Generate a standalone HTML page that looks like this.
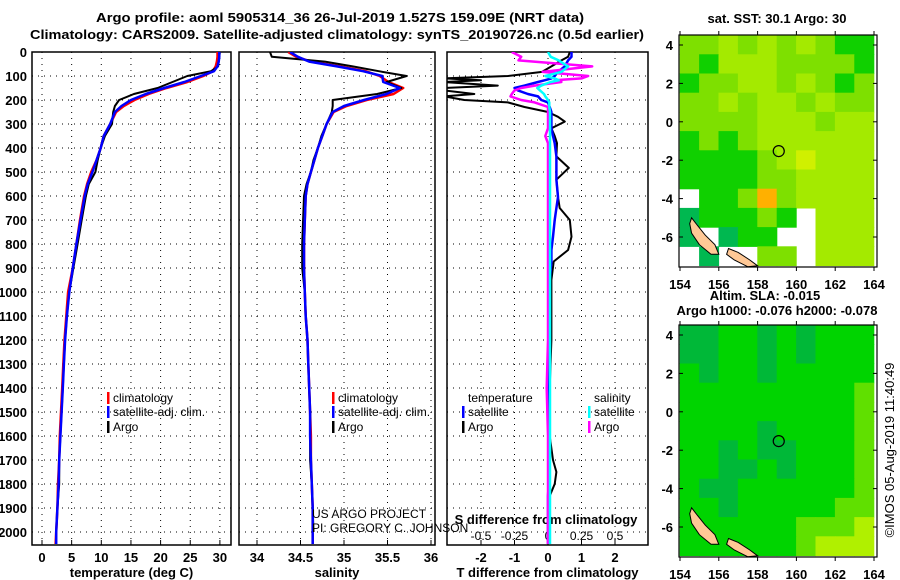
<!DOCTYPE html>
<html><head><meta charset="utf-8"><style>
html,body{margin:0;padding:0;background:#fff;}
svg{display:block;font-family:"Liberation Sans",sans-serif;}
.b{font-weight:bold;font-size:13px;}
.l{font-size:12px;}
</style></head><body>
<svg id="c" width="900" height="580" viewBox="0 0 900 580">
<defs>
<clipPath id="cp1"><rect x="32" y="52" width="199" height="493"/></clipPath>
<clipPath id="cp2"><rect x="239" y="52" width="196" height="493"/></clipPath>
<clipPath id="cp3"><rect x="447" y="52" width="201" height="493"/></clipPath>
<clipPath id="cm1"><rect x="679" y="35" width="198" height="232"/></clipPath>
<clipPath id="cm2"><rect x="679" y="325" width="198" height="232"/></clipPath>
</defs>
<text x="340" y="22" text-anchor="middle" class="b" font-size="14" textLength="488" lengthAdjust="spacingAndGlyphs">Argo profile: aoml 5905314_36 26-Jul-2019 1.527S 159.09E (NRT data)</text>
<text x="337" y="39" text-anchor="middle" class="b" font-size="14" textLength="614" lengthAdjust="spacingAndGlyphs">Climatology: CARS2009. Satellite-adjusted climatology: synTS_20190726.nc (0.5d earlier)</text>
<g id="g"></g>
<text x="777" y="23" text-anchor="middle" class="b">sat. SST: 30.1 Argo: 30</text>
<text x="765" y="300" text-anchor="middle" class="b">Altim. SLA: -0.015</text>
<text x="777" y="315" text-anchor="middle" class="b">Argo h1000: -0.076 h2000: -0.078</text>
<text x="0" y="0" transform="translate(894,450) rotate(-90)" text-anchor="middle" font-size="13">©IMOS 05-Aug-2019 11:40:49</text>
<text x="312" y="518" font-size="12">US ARGO PROJECT</text>
<text x="312" y="532" font-size="12">PI: GREGORY C. JOHNSON</text>
</svg>
<script>
// ---- profile data ----
const depth=[0,20,40,60,80,100,125,150,175,200,225,250,300,350,400,450,500,550,600,700,800,900,1000,1100,1200,1300,1400,1500,1600,1700,1800,1900,2000,2050];
const tempClim=[29.6,29.6,29.5,29.3,28.8,27.2,24.5,21,18,15.6,13.8,12.5,11.5,10.4,9.9,9.2,8.3,7.6,7.1,6.4,5.8,5.2,4.4,4.1,3.8,3.6,3.4,3.2,3.0,2.9,2.7,2.6,2.4,2.3];
const tempSat=[29.9,29.9,29.8,29.6,29.0,26.8,24.0,20.6,17.5,15.0,13.4,12.3,11.5,10.4,9.9,9.2,8.5,7.7,7.2,6.5,5.8,5.2,4.6,4.2,3.9,3.7,3.5,3.3,3.1,2.9,2.8,2.6,2.4,2.4];
const tempArgo=[30.0,29.9,29.8,29.7,28.5,24.5,22.0,19.5,15.5,13.0,12.3,12.0,11.8,10.6,9.9,9.4,9.0,7.9,7.4,6.7,6.0,5.3,4.6,4.2,3.9,3.7,3.5,3.3,3.1,2.9,2.9,2.6,2.4];
const salClim=[34.36,34.45,34.62,34.95,35.25,35.41,35.51,35.68,35.57,35.26,35.03,34.88,34.8,34.75,34.70,34.66,34.62,34.58,34.56,34.55,34.54,34.54,34.55,34.56,34.58,34.59,34.60,34.61,34.62,34.62,34.63,34.64,34.64,34.64];
const salSat=[34.38,34.47,34.60,34.92,35.22,35.44,35.45,35.64,35.49,35.23,35.0,34.87,34.8,34.75,34.70,34.66,34.62,34.58,34.56,34.55,34.54,34.54,34.55,34.56,34.58,34.59,34.60,34.61,34.61,34.62,34.63,34.64,34.64,34.64];
const salArgo=[34.15,34.17,34.78,35.1,35.4,35.72,35.49,35.66,35.38,34.87,34.87,34.86,34.8,34.74,34.70,34.65,34.62,34.57,34.54,34.53,34.52,34.52,34.55,34.56,34.58,34.59,34.60,34.61,34.61,34.61,34.63,34.64,34.65];
const dDepth=[0,20,35,60,83,100,110,118,125,140,150,160,175,185,200,210,229,250,270,290,318,350,380,435,483,532,604,650,700,770,825,873,950,1000,1200,1400,1600,1700,1750,1800,1850,1900,2000,2050];
const tDiffArgo=[0.65,0.6,0.4,0.1,-0.18,-1.2,-3.1,-2,-3.1,-1.5,-3.1,-3.1,-2.2,-3.1,-2.5,-1.2,-0.7,0,0.3,0.5,0.1,0.2,0.27,0.25,0.62,0.25,0.3,0.35,0.65,0.7,0.6,0.17,0.1,0.1,0.1,0.05,0.05,0.15,0.25,0.2,0.05,0,0,0];
const tDiffSat=[0.7,0.7,0.6,0.5,0.3,0.2,0.1,-0.1,-0.3,-0.7,-1.0,-0.9,-0.6,-0.3,-0.2,0,0.05,0.1,0.1,0.1,0.1,0.15,0.2,0.25,0.25,0.25,0.3,0.25,0.2,0.15,0.1,0.1,0.05,0.05,0.03,0.02,0.02,0.02,0.02,0.02,0,0,0,0];
const sDiffSat=[0,0.02,0.08,0.15,0.1,-0.02,0.05,0.08,0.02,-0.05,-0.08,-0.06,-0.03,-0.02,0,0.01,0.01,0.015,0.015,0.015,0.015,0.015,0.015,0.015,0.015,0.015,0.015,0.015,0.015,0.015,0.015,0.015,0.015,0.015,0.015,0.015,0.015,0.015,0.015,0.015,0.015,0.015,0.015,0.015];
const sDiffArgo=[-0.27,-0.2,-0.22,0.33,-0.04,0.3,0.25,0.05,0.1,-0.1,-0.2,-0.25,-0.27,-0.28,-0.2,-0.1,0,0,0,0,0,-0.02,0,0,0,0,0,0,0,0,0,0,0,0,0,-0.01,0,0,0,0,0,0,0,0];
const depthTicks=[0,100,200,300,400,500,600,700,800,900,1000,1100,1200,1300,1400,1500,1600,1700,1800,1900,2000];
const tempTicks=[0,5,10,15,20,25,30];
const salTicks=[34,34.5,35,35.5,36];
const tdTicks=[-2,-1,0,1,2];
const sdTicks=[-0.5,-0.25,0,0.25,0.5];
// ---- map data (color classes per 1x1 deg cell, rows lat 4..-7, cols lon 154.5..163.5) ----
const sstGrid=[
[2,2,3,2,3,2,3,2,1,1],[2,1,3,3,3,2,2,2,2,1],[1,2,2,3,3,2,3,2,1,2],[2,2,3,2,3,3,2,3,2,2],
[2,2,2,2,3,3,3,2,3,3],[1,2,1,2,3,3,3,3,3,3],[1,1,1,1,2,3,4,3,3,3],[1,1,1,1,2,2,3,3,3,3],
[-1,1,1,2,5,2,3,3,3,3],[0,1,1,1,2,1,-1,3,3,3],[0,-1,0,1,1,-1,-1,3,3,3],[-1,0,-1,-1,2,2,-1,3,3,3]];
const slaGrid=[
[0,0,1,1,0,1,0,1,1,1],[0,0,1,1,0,1,0,1,1,1],[1,0,1,1,0,1,1,1,1,1],[1,1,1,1,1,1,1,1,1,2],
[1,1,1,1,1,1,1,1,1,2],[1,1,1,1,0,1,1,1,1,2],[1,1,0,1,0,0,1,1,1,2],[1,1,0,0,1,0,1,1,1,2],
[1,0,0,1,1,1,1,1,1,2],[1,1,0,1,1,1,1,1,2,2],[1,1,1,1,1,1,2,2,2,3],[1,1,1,1,1,1,2,3,3,3]];
const sstColors=["#00b850","#10d000","#7ee000","#a4ea00","#d0f000","#ffb000"];
const slaColors=["#00b838","#00d400","#60e000","#b0f000"];
const island1=[[154.6,-5.0],[154.9,-5.4],[155.3,-5.9],[155.8,-6.4],[156.0,-6.9],[155.6,-6.9],[155.0,-6.4],[154.6,-5.8],[154.5,-5.3]];
const island2=[[156.5,-6.6],[157.0,-6.8],[157.6,-7.2],[158.0,-7.5],[157.5,-7.55],[156.8,-7.2],[156.4,-6.9]];
const floatLon=159.09, floatLat=-1.527;
const latTicks=[4,2,0,-2,-4,-6];
const lonTicks=[154,156,158,160,162,164];

const NS='http://www.w3.org/2000/svg';
const G=document.getElementById('g');
function mk(tag,attrs,parent){const e=document.createElementNS(NS,tag);for(const k in attrs)e.setAttribute(k,attrs[k]);(parent||G).appendChild(e);return e;}
const yD=d=>52+d*0.24;
const xT=t=>42+t*5.93;
const xS=s=>257+(s-34)*87;
const xTD=v=>548+v*33.5;
const xSD=v=>548+v*134;

function frame(x0,x1,name,vticks,xf,labels,xlabel){
  const grp=mk('g',{});
  
  
  depthTicks.forEach(d=>{
    const l=mk('line',{x1:x0,x2:x1,y1:yD(d),y2:yD(d),stroke:'#000','stroke-width':1,'stroke-dasharray':'1,5'},grp);
    
    
  });
  vticks.forEach((v,i)=>{
    const x=xf(v);
    const l=mk('line',{x1:x,x2:x,y1:52,y2:545,stroke:'#000','stroke-width':1,'stroke-dasharray':'1,5'},grp);
    
    
    mk('line',{x1:x,x2:x,y1:545,y2:540,stroke:'#000'},grp);
    const t=mk('text',{x:x,y:562,'text-anchor':'middle',class:'b'},grp);
    t.textContent=labels[i];
    
    
  });
  const r=mk('rect',{x:x0,y:52,width:x1-x0,height:493,fill:'none',stroke:'#000','stroke-width':1.5},grp);
  
  
  const xl=mk('text',{x:(x0+x1)/2,y:577,'text-anchor':'middle',class:'b'},grp);
  xl.textContent=xlabel;
  
  
}
frame(32,231,'temperature-panel',tempTicks,xT,tempTicks.map(String),'temperature (deg C)');
frame(239,435,'salinity-panel',salTicks,xS,salTicks.map(String),'salinity');
frame(447,648,'difference-panel',tdTicks,xTD,tdTicks.map(String),'T difference from climatology');
depthTicks.forEach(d=>{
  const t=mk('text',{x:27,y:yD(d)+5,'text-anchor':'end',class:'b'});
  t.textContent=d;
  
  
});
sdTicks.forEach(v=>{
  const t=mk('text',{x:xSD(v),y:540,'text-anchor':'middle','font-size':12});
  t.textContent=String(v);
  
  
});
{const t=mk('text',{x:546,y:524,'text-anchor':'middle',class:'b'});t.textContent='S difference from climatology';

}

function line(xs,ds,xf,color,cp,name,w){
  const n=Math.min(xs.length,ds.length);
  const pts=[];for(let i=0;i<n;i++)pts.push(xf(xs[i]).toFixed(1)+','+yD(ds[i]).toFixed(1));
  const p=mk('polyline',{points:pts.join(' '),fill:'none',stroke:color,'stroke-width':w||2.5,'clip-path':'url(#'+cp+')','stroke-linejoin':'round'});
  
  
}
line(tempClim,depth,xT,'#f00','cp1','temp-climatology-line');
line(tempArgo,depth,xT,'#000','cp1','temp-argo-line',2);
line(tempSat,depth,xT,'#00f','cp1','temp-satellite-line');
line(salClim,depth,xS,'#f00','cp2','sal-climatology-line');
line(salArgo,depth,xS,'#000','cp2','sal-argo-line',2);
line(salSat,depth,xS,'#00f','cp2','sal-satellite-line');
line(tDiffArgo,dDepth,xTD,'#000','cp3','tdiff-argo-line',2);
line(tDiffSat,dDepth,xTD,'#00f','cp3','tdiff-satellite-line');
line(sDiffArgo,dDepth,xSD,'#f0f','cp3','sdiff-argo-line');
line(sDiffSat,dDepth,xSD,'#0ff','cp3','sdiff-satellite-line');

function legend(x,y,color,label,name){
  const g=mk('g',{});
  
  
  mk('rect',{x:x,y:y-10,width:2.5,height:12,fill:color},g);
  const t=mk('text',{x:x+6,y:y,'font-size':12},g);t.textContent=label;
}
legend(107,402,'#f00','climatology','legend-temp-climatology');
legend(107,416,'#00f','satellite-adj. clim.','legend-temp-satellite');
legend(107,431,'#000','Argo','legend-temp-argo');
legend(332,402,'#f00','climatology','legend-sal-climatology');
legend(332,416,'#00f','satellite-adj. clim.','legend-sal-satellite');
legend(332,431,'#000','Argo','legend-sal-argo');
{const t=mk('text',{x:468,y:402,'font-size':12});t.textContent='temperature';


const t2=mk('text',{x:594,y:402,'font-size':12});t2.textContent='salinity';

}
legend(462,416,'#00f','satellite','legend-tdiff-satellite');
legend(462,431,'#000','Argo','legend-tdiff-argo');
legend(588,416,'#0ff','satellite','legend-sdiff-satellite');
legend(588,431,'#f0f','Argo','legend-sdiff-argo');

// ---- maps ----
const xL=lon=>680+(lon-154)*19.4;
function drawMap(top,grid,colors,cp,name){
  const yL=lat=>top+10+(4-lat)*19.2;
  const g=mk('g',{'clip-path':'url(#'+cp+')'});
  
  
  mk('rect',{x:679,y:top,width:198,height:232,fill:'#fff'},g);
  grid.forEach((row,r)=>row.forEach((v,c)=>{
    if(v<0)return;
    const lat=4-r, lon=154+c;
    const cell=mk('rect',{x:xL(lon)-0.3,y:yL(lat+0.5)-0.3,width:19.4+0.6,height:19.2+0.6,fill:colors[v]},g);
    
    
  }));
  [island1,island2].forEach(isl=>{
    const p=mk('polygon',{points:isl.map(q=>xL(q[0]).toFixed(1)+','+yL(q[1]).toFixed(1)).join(' '),fill:'#ffc896',stroke:'#000','stroke-width':1},g);
    
    
  });
  const c=mk('circle',{cx:xL(floatLon),cy:yL(floatLat),r:5.5,fill:'none',stroke:'#000','stroke-width':1.2});
  
  
  const f=mk('rect',{x:679,y:top,width:198,height:232,fill:'none',stroke:'#000','stroke-width':1.2});
  
  
  latTicks.forEach(v=>{
    const t=mk('text',{x:673,y:yL(v)+5,'text-anchor':'end',class:'b'});t.textContent=v;
    
    
    mk('line',{x1:679,x2:683,y1:yL(v),y2:yL(v),stroke:'#000'});
    mk('line',{x1:873,x2:877,y1:yL(v),y2:yL(v),stroke:'#000'});
  });
  lonTicks.forEach(v=>{
    const t=mk('text',{x:xL(v),y:top+254,'text-anchor':'middle',class:'b'});t.textContent=v;
    
    
    mk('line',{x1:xL(v),x2:xL(v),y1:top,y2:top-4,stroke:'#000'});
    mk('line',{x1:xL(v),x2:xL(v),y1:top+232,y2:top+236,stroke:'#000'});
  });
}
drawMap(35,sstGrid,sstColors,'cm1','sst-map');
drawMap(325,slaGrid,slaColors,'cm2','sla-map');
</script>
</body></html>
